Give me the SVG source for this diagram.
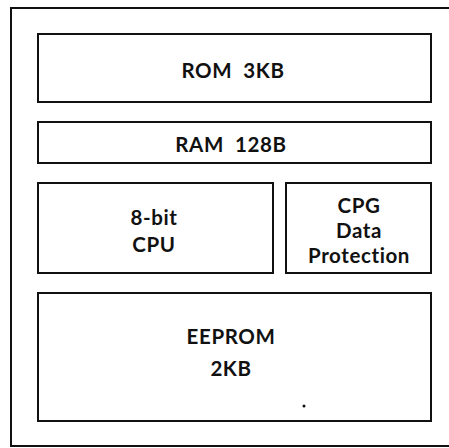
<svg xmlns="http://www.w3.org/2000/svg" width="449" height="448" viewBox="0 0 449 448">
<style>
.box{fill:#fff;stroke:#111;stroke-width:2}
.t{font-family:Lato,"Open Sans",sans-serif;font-weight:700;font-size:20.5px;letter-spacing:0.6px;fill:#111;text-anchor:middle}
</style>
<rect width="449" height="448" fill="#fff"/>
<g id="chip">
<path d="M449,8 H11 V446 H449" fill="none" stroke="#111" stroke-width="2"/>
</g>
<g id="rom"><rect class="box" x="38" y="34" width="393" height="68"/><text class="t" x="233" y="78" xml:space="preserve">ROM  3KB</text></g>
<g id="ram"><rect class="box" x="38" y="122" width="393" height="41"/><text class="t" x="231" y="152" xml:space="preserve">RAM  128B</text></g>
<g id="cpu"><rect class="box" x="38" y="183" width="235" height="90"/><text class="t" x="154" y="225">8-bit</text><text class="t" x="154" y="252">CPU</text></g>
<g id="cpg"><rect class="box" x="286" y="183" width="145" height="90"/><text class="t" x="359" y="213">CPG</text><text class="t" x="359" y="238">Data</text><text class="t" x="359" y="263">Protection</text></g>
<g id="eeprom"><rect class="box" x="38" y="293" width="393" height="128"/><text class="t" x="231" y="344">EEPROM</text><text class="t" x="231" y="376">2KB</text><circle cx="304" cy="406" r="1.5" fill="#111"/></g>
<g id="connectors"></g>
</svg>
